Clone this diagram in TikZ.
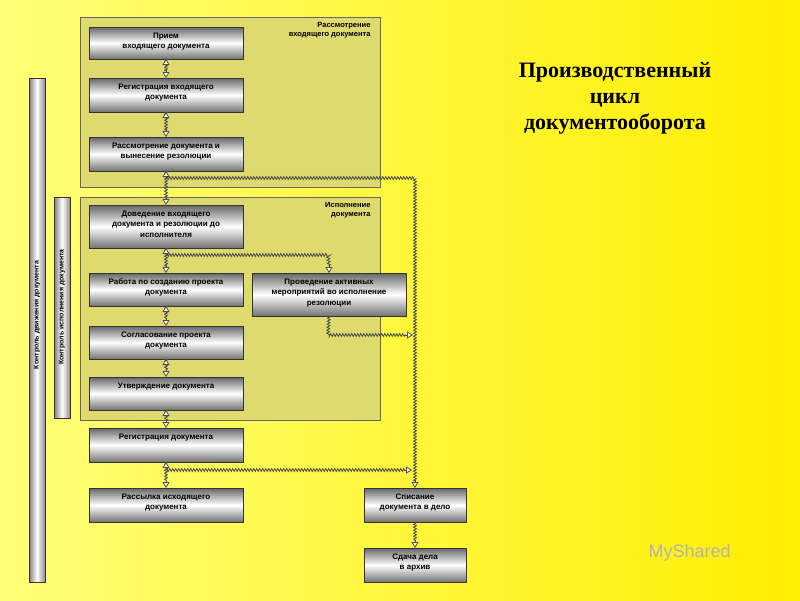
\documentclass[tikz,border=0pt]{standalone}
\usepackage{fontspec}
\setmainfont{Liberation Sans}
\newfontfamily\titlefont{Liberation Serif}
\usetikzlibrary{arrows.meta,decorations.pathmorphing}
\definecolor{frm}{RGB}{222,218,110}
\tikzset{
 px/.style={x=1pt,y=-1pt},
 bx/.style={draw=black!80,line width=1pt,top color=black!60,bottom color=black!55,middle color=white,shading angle=0},
 frame/.style={draw=black!60,fill=frm,line width=0.6pt},
 ftitle/.style={font=\bfseries\fontsize{7.5}{9}\selectfont,align=right,anchor=north east},
 zz/.style={draw=black!70,line width=0.8pt,decorate,decoration={zigzag,amplitude=1.4pt,segment length=3pt}},
 hd/.style={-{Triangle[open,length=6pt,width=7pt,fill=white]},draw=black!70,line width=0.8pt},
 bar/.style={draw=black!80,line width=0.8pt,left color=black!50,right color=black!45,middle color=white,shading angle=90},
}
\newcommand{\bxx}[6]{\path[bx] (#1,#2) rectangle (#3,#4); \node[font=\bfseries\fontsize{8}{10.5}\selectfont,align=center,anchor=north] (#5) at ({(#1+#3)/2},#2+2) {#6};
 \coordinate (#5t) at ({(#1+#3)/2},#2); \coordinate (#5b) at ({(#1+#3)/2},#4);}
\begin{document}
\begin{tikzpicture}[px]
\useasboundingbox (0,0) rectangle (800,600);
\shade[left color={rgb,255:red,255;green,255;blue,120},right color={rgb,255:red,255;green,238;blue,0}] (0,0) rectangle (800,600);
\path[frame] (80,17) rectangle (380,187);
\node[ftitle] (f1) at (374,19) {Рассмотрение\\входящего документа};
\path[frame] (80,197) rectangle (380,420);
\node[ftitle] (f2) at (374,199) {Исполнение\\документа};
\path[bar] (29,78) rectangle (45,582);
\node[rotate=90,font=\bfseries\fontsize{7}{8}\selectfont] (c1) at (37,315) {Контроль движения документа};
\path[bar] (54,197) rectangle (70,418);
\node[rotate=90,font=\bfseries\fontsize{7}{8}\selectfont] (c2) at (62,307) {Контроль исполнения документа};
\bxx{89}{27}{243}{59}{b1}{Прием\\входящего документа}
\bxx{89}{78}{243}{112}{b2}{Регистрация входящего\\документа}
\bxx{89}{137}{243}{171}{b3}{Рассмотрение документа и\\вынесение резолюции}
\bxx{89}{205}{243}{248}{b4}{Доведение входящего\\документа и резолюции до\\исполнителя}
\bxx{89}{273}{243}{306}{b5}{Работа по созданию проекта\\документа}
\bxx{89}{326}{243}{359}{b6}{Согласование проекта\\документа}
\bxx{89}{377}{243}{410}{b7}{Утверждение документа}
\bxx{89}{428}{243}{462}{b8}{Регистрация документа}
\bxx{89}{488}{243}{522}{b9}{Рассылка исходящего\\документа}
\bxx{252}{273}{406}{316}{b10}{Проведение активных\\мероприятий во исполнение\\резолюции}
\bxx{364}{488}{466}{522}{b11}{Списание\\документа в дело}
\bxx{364}{548}{466}{582}{b12}{Сдача дела\\в архив}
% connectors
\foreach \a/\b in {b1/b2,b2/b3,b3/b4,b4/b5,b5/b6,b6/b7,b7/b8,b8/b9,b11/b12}{
 \path[zz] (\a b) -- ([yshift=7pt]\b t);
 \draw[hd] ([yshift=8pt]\b t) -- (\b t);
}
\foreach \a in {b1,b2,b3,b4,b5,b6,b7,b8}{\draw[hd] ([yshift=-8pt]\a b) -- (\a b);}
\coordinate (j1) at (166,178); \coordinate (j1r) at (415,178);
\path[zz] (j1) -- (j1r) -- ([yshift=7pt]b11t -| j1r);
\draw[hd] ([yshift=8pt]b11t -| j1r) -- (b11t -| j1r);
\coordinate (j2) at (166,255); \coordinate (j2r) at (328,255);
\path[zz] (j2) -- (j2r) -- ([yshift=7pt]b10t);
\draw[hd] ([yshift=8pt]b10t) -- (b10t);
\coordinate (j3) at (328,335); \coordinate (j3r) at (413,335);
\path[zz] (b10b) -- (j3) -- ([xshift=-7pt]j3r);
\draw[hd] ([xshift=-8pt]j3r) -- (j3r);
\coordinate (j4) at (166,470); \coordinate (j4r) at (412,470);
\path[zz] (j4) -- ([xshift=-7pt]j4r);
\draw[hd] ([xshift=-8pt]j4r) -- (j4r);
\node[font=\titlefont\bfseries\fontsize{22}{26}\selectfont,align=center] (title) at (615,98) {Производственный\\цикл\\документооборота};
\node[font=\fontsize{18}{20}\selectfont,text=gray!60,anchor=west] (ms) at (645,553) {MyShared};
\end{tikzpicture}
\end{document}
